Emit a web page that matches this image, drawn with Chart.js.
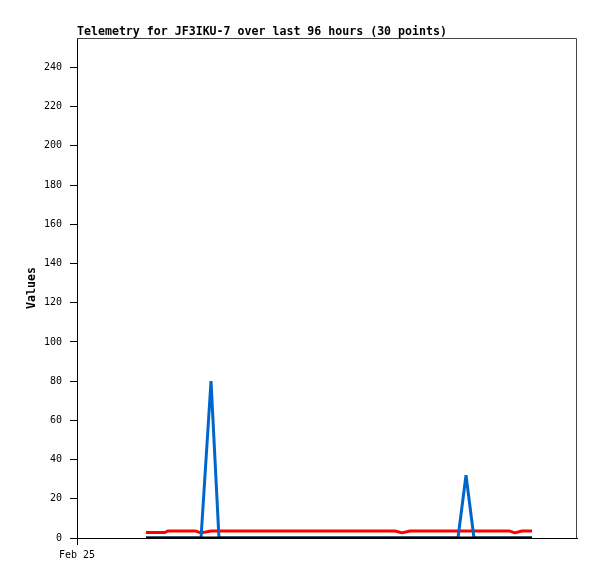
<!DOCTYPE html>
<html>
<head>
<meta charset="utf-8">
<script src="https://cdn.jsdelivr.net/npm/chart.js@4/dist/chart.umd.min.js"></script>
<style>
  html, body { margin: 0; padding: 0; background: #fff; }
  #wrap { width: 597px; height: 579px; position: relative; }
</style>
</head>
<body>
<div id="wrap"><canvas id="c" width="597" height="579"></canvas></div>
<script>
// Hours since Feb 25 00:00 (time of each telemetry point)
const hours = [13.25, 16.9, 17.47, 22.66, 23.81, 25.73, 27.26, 30.72, 33.98, 37.44,
               40.70, 44.16, 47.62, 50.88, 54.34, 57.6, 61.06, 62.4, 63.94, 67.0,
               70.08, 73.15, 74.69, 76.22, 78.53, 80.64, 82.94, 84.1, 85.44, 87.36];
const seriesBlack = [0,0,0,0,0,0,0,0,0,0, 0,0,0,0,0,0,0,0,0,0, 0,0,0,0,0,0,0,0,0,0];
const seriesRed   = [2.8,2.8,3.6,3.6,2.6,3.6,3.6,3.6,3.6,3.6, 3.6,3.6,3.6,3.6,3.6,3.6,3.6,2.6,3.6,3.6,
                     3.6,3.6,3.6,3.6,3.6,3.6,3.6,2.6,3.6,3.6];
const seriesBlue  = [0,0,0,0,0,80,0,0,0,0, 0,0,0,0,0,0,0,0,0,0, 0,0,32,0,0,0,0,0,0,0];
const yTicks = [0,20,40,60,80,100,120,140,160,180,200,220,240];
const xTickLabels = { 0: 'Feb 25' };
const titleText = 'Telemetry for JF3IKU-7 over last 96 hours (30 points)';

const pts = arr => arr.map((v, i) => ({ x: hours[i], y: v }));

const frame = {
  id: 'frame',
  afterDraw(chart) {
    const { ctx, chartArea: a } = chart;
    ctx.save();
    ctx.strokeStyle = '#444';
    ctx.lineWidth = 1;
    ctx.beginPath();
    ctx.moveTo(a.left, a.top + 0.5);
    ctx.lineTo(a.right - 0.5, a.top + 0.5);
    ctx.lineTo(a.right - 0.5, a.bottom);
    ctx.stroke();
    ctx.fillStyle = '#000';
    ctx.font = 'bold 11.6px "DejaVu Sans Mono", monospace';
    ctx.textBaseline = 'alphabetic';
    ctx.textAlign = 'left';
    ctx.fillText(titleText, a.left, 35);
    ctx.restore();
  }
};

new Chart(document.getElementById('c'), {
  type: 'line',
  data: {
    datasets: [
      { data: pts(seriesBlack), borderColor: '#000000', borderWidth: 3, order: 0 },
      { data: pts(seriesBlue),  borderColor: '#0066cc', borderWidth: 3, order: 1 },
      { data: pts(seriesRed),   borderColor: '#ff0000', borderWidth: 3, order: 2 }
    ]
  },
  options: {
    responsive: false,
    animation: false,
    events: [],
    layout: { padding: { left: 0, right: 20, top: 38, bottom: 0 } },
    elements: { point: { radius: 0 }, line: { tension: 0, borderJoinStyle: 'bevel', borderCapStyle: 'butt' } },
    plugins: { legend: { display: false }, tooltip: { enabled: false }, title: { display: false } },
    scales: {
      x: {
        type: 'linear', min: 0, max: 96,
        afterBuildTicks: s => { s.ticks = Object.keys(xTickLabels).map(v => ({ value: +v })); },
        afterFit: s => { s.height = 41; },
        grid: { drawOnChartArea: false, drawTicks: true, tickLength: 7, color: '#000' },
        border: { color: '#000', width: 1 },
        ticks: {
          padding: 4, color: '#000', maxRotation: 0,
          font: { family: '"DejaVu Sans Mono", monospace', size: 10 },
          callback: v => xTickLabels[v] || ''
        }
      },
      y: {
        min: 0, max: 255,
        afterBuildTicks: s => { s.ticks = yTicks.map(v => ({ value: v })); },
        afterFit: s => { s.width = 77; },
        grid: { drawOnChartArea: false, drawTicks: true, tickLength: 7, color: '#000' },
        border: { color: '#000', width: 1 },
        ticks: {
          padding: 8, color: '#000',
          font: { family: '"DejaVu Sans Mono", monospace', size: 10 }
        },
        title: {
          display: true, text: 'Values', color: '#000',
          font: { family: '"DejaVu Sans Mono", monospace', size: 11.6, weight: 'bold' },
          padding: { top: 25, bottom: 0 }
        }
      }
    }
  },
  plugins: [frame]
});
</script>
</body>
</html>
